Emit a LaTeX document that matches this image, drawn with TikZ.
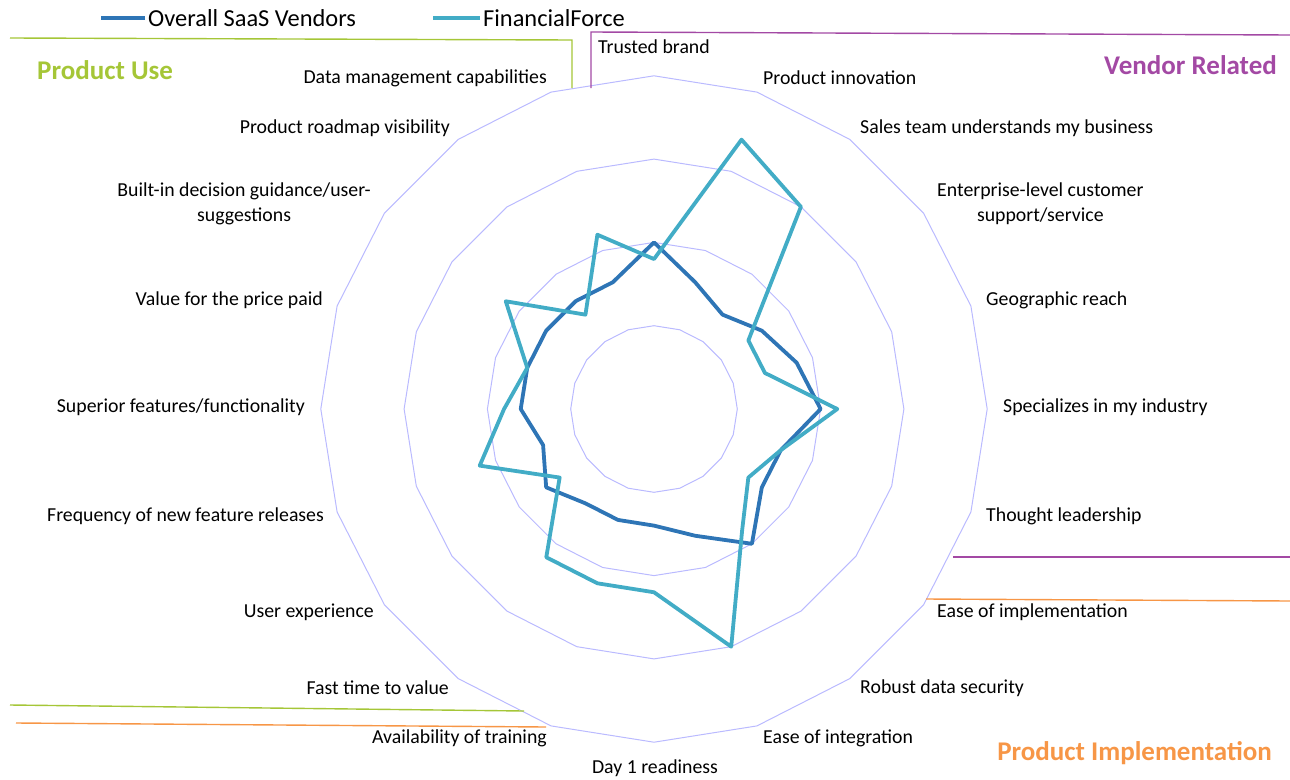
\documentclass[tikz,border=0pt]{standalone}
\usepackage{fontspec}
\setmainfont{Carlito}

\definecolor{saas}{RGB}{46,117,182}
\definecolor{ffblue}{RGB}{66,172,198}
\definecolor{gridc}{RGB}{186,186,255}
\definecolor{usegreen}{RGB}{165,198,55}
\definecolor{vendorpurple}{RGB}{163,73,164}
\definecolor{implorange}{RGB}{247,150,70}

\tikzset{
  lbl/.style={inner sep=0pt, font=\fontsize{19.8}{25}\selectfont},
  lgd/.style={inner sep=0pt, font=\fontsize{24.4}{28}\selectfont},
  ttl/.style={inner sep=0pt, font=\fontsize{27}{31}\selectfont\bfseries},
  ring/.style={draw=gridc, line width=1pt},
  saasline/.style={draw=saas, line width=3.8pt, line join=round},
  ffline/.style={draw=ffblue, line width=3.8pt, line join=round},
}

\begin{document}
\begin{tikzpicture}[x=1pt,y=-1pt]

\useasboundingbox (0,0) rectangle (1290,779);

\begin{scope}[shift={(654,409)},x=83.3pt,y=83.3pt]

\foreach \k in {1,...,4}
  \draw [ring] (90:\k) \foreach \i in {1,...,19} {-- (90-18*\i:\k)} -- cycle;  %%网格
\draw [saasline] (90:2.0) \foreach \v [count=\i] in {1.6,1.4,1.6,1.8,2.0,1.6,1.6,2.0,1.6,1.4,1.4,1.4,1.6,1.4,1.6,1.6,1.6,1.6,1.6} {-- (90-18*\i:\v)} -- cycle;  %%SaaS
\draw [ffline] (90:1.8) \foreach \v [count=\i] in {3.4,3.0,1.4,1.4,2.2,1.6,1.4,1.8,3.0,2.2,2.2,2.2,1.4,2.2,1.8,1.6,2.2,1.4,2.2} {-- (90-18*\i:\v)} -- cycle;  %%FinancialForce

\end{scope}

%%图例
\node (lgsaas) [lgd,anchor=west] at (148,18) {Overall SaaS Vendors};
\node (lgff) [lgd,anchor=west] at (483,18) {FinancialForce};
\draw [saasline] ([xshift=-3pt]lgsaas.west) -- ++(-44,0);
\draw [ffline] ([xshift=-3pt]lgff.west) -- ++(-47,0);

%%分组框线
\draw [usegreen,line width=1.4pt] (10,38) -- (572,40) -- (572,88);
\draw [vendorpurple,line width=1.4pt] (591,88) -- (591,32) -- (1290,35);
\draw [vendorpurple,line width=1.4pt] (953,557) -- (1290,557);
\draw [implorange,line width=1.4pt] (926,599) -- (1290,601);
\draw [usegreen,line width=1.4pt] (10,705) -- (524,711);
\draw [implorange,line width=1.4pt] (16,723) -- (546,727);

\node (puse) [ttl,anchor=west,text=usegreen] at (37,70) {Product Use};
\node (vrel) [ttl,anchor=east,text=vendorpurple] at (1277,65) {Vendor Related};
\node (pimp) [ttl,anchor=east,text=implorange] at (1272,753) {Product Implementation};

%%轴标签
\node (brand) [lbl,anchor=west] at (598,47) {Trusted brand};
\node (innov) [lbl,anchor=west] at (763,78) {Product innovation};
\node (sales) [lbl,anchor=west] at (860,128) {Sales team understands my business};
\node (supp) [lbl,anchor=west,align=center] at (937,204) {Enterprise-level customer\\support/service};
\node (geo) [lbl,anchor=west] at (986,300) {Geographic reach};
\node (indus) [lbl,anchor=west] at (1003,407) {Specializes in my industry};
\node (thought) [lbl,anchor=west] at (986,516) {Thought leadership};
\node (eimpl) [lbl,anchor=west] at (937,612) {Ease of implementation};
\node (secur) [lbl,anchor=west] at (860,688) {Robust data security};
\node (integ) [lbl,anchor=west] at (763,738) {Ease of integration};
\node (dayone) [lbl] at (655,768) {Day 1 readiness};
\node (train) [lbl,anchor=east] at (547,738) {Availability of training};
\node (fast) [lbl,anchor=east] at (449,688) {Fast time to value};
\node (ux) [lbl,anchor=east] at (374,612) {User experience};
\node (freq) [lbl,anchor=east] at (324,516) {Frequency of new feature releases};
\node (feat) [lbl,anchor=east] at (305,407) {Superior features/functionality};
\node (price) [lbl,anchor=east] at (323,300) {Value for the price paid};
\node (guide) [lbl,anchor=east,align=center] at (371,204) {Built-in decision guidance/user-\\suggestions};
\node (road) [lbl,anchor=east] at (450,128) {Product roadmap visibility};
\node (datam) [lbl,anchor=east] at (547,78) {Data management capabilities};

\end{tikzpicture}
\end{document}
